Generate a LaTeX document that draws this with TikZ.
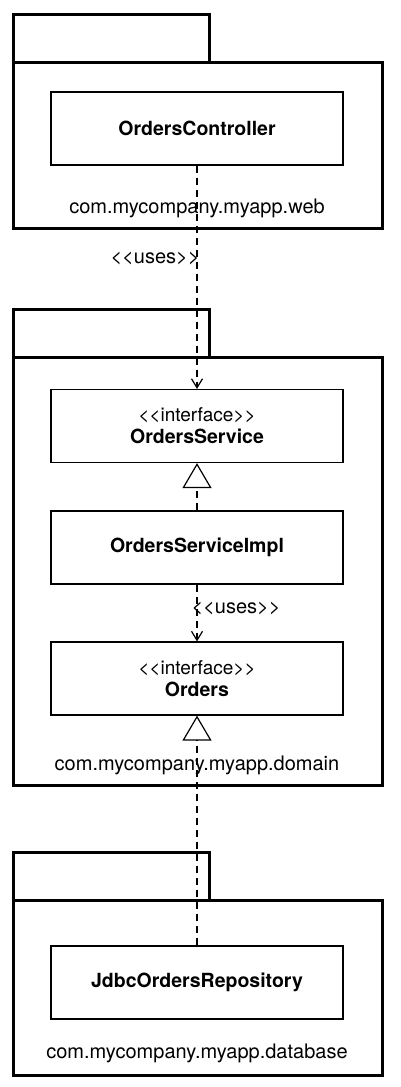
\documentclass[tikz,border=0pt]{standalone}
\usepackage{fontspec}
\setmainfont{TeX Gyre Heros}
\usepackage{tikz}
\usetikzlibrary{arrows.meta, positioning}

\begin{document}
\begin{tikzpicture}[
    x=1pt, y=-1pt,
    pkgtab/.style={draw, line width=3pt, minimum width=196pt, minimum height=48pt,
                   inner sep=0pt},
    pkgbody/.style={draw, line width=3pt, minimum width=369pt, inner sep=0pt},
    cls/.style={draw, line width=1.2pt, fill=white, minimum width=292pt,
                minimum height=73pt, align=center, inner sep=0pt,
                font=\fontsize{19.5}{22}\selectfont\bfseries},
    pkglabel/.style={font=\fontsize{20}{23}\selectfont, inner sep=0pt},
    stereo/.style={font=\fontsize{20}{22}\selectfont, inner sep=0pt},
    dep/.style={line width=1.2pt, dash pattern=on 7pt off 5pt,
                -{Straight Barb[length=9pt, width=11pt]}},
    real/.style={line width=1.2pt, dash pattern=on 7pt off 5pt,
                 -{Triangle[open, length=25pt, width=29pt]}}
  ]
    \useasboundingbox (0,0) rectangle (400,1087);

    % web package
    \node[pkgtab] (webtab) at (111,38) {};
    \node[pkgbody, minimum height=166pt] (web) at (197.5,145) {};
    \node[cls] (ctrl) at (197,128.5) {OrdersController};
    \node[pkglabel] (weblbl) at (197,208) {com.mycompany.myapp.web};

    % domain package
    \node[pkgtab] (domtab) at (111,333.5) {};
    \node[pkgbody, minimum height=428pt] (dom) at (197.5,571) {};
    \node[cls] (svc) at (197,426)
      {{\fontsize{19}{22}\selectfont\mdseries{<}{<}interface{>}{>}}\\OrdersService};
    \node[cls] (impl) at (197,547.5) {OrdersServiceImpl};
    \node[cls] (ord) at (197,678.5)
      {{\fontsize{19}{22}\selectfont\mdseries{<}{<}interface{>}{>}}\\Orders};
    \node[pkglabel] (domlbl) at (197,765) {com.mycompany.myapp.domain};

    % database package
    \node[pkgtab] (dbtab) at (111,876.5) {};
    \node[pkgbody, minimum height=175pt] (db) at (197.5,987.5) {};
    \node[cls] (jdbc) at (197,982.5) {JdbcOrdersRepository};
    \node[pkglabel] (dblbl) at (197,1053) {com.mycompany.myapp.database};

    % dependencies
    \draw[dep] (ctrl) -- (svc);
    \node[stereo] (uses1) at (155,258) {{<}{<}uses{>}{>}};
    \draw[dep] (impl) -- (ord);
    \node[stereo] (uses2) at (236,608) {{<}{<}uses{>}{>}};
    \draw[real] (impl) -- (svc);
    \draw[real] (jdbc) -- (ord);
\end{tikzpicture}
\end{document}
